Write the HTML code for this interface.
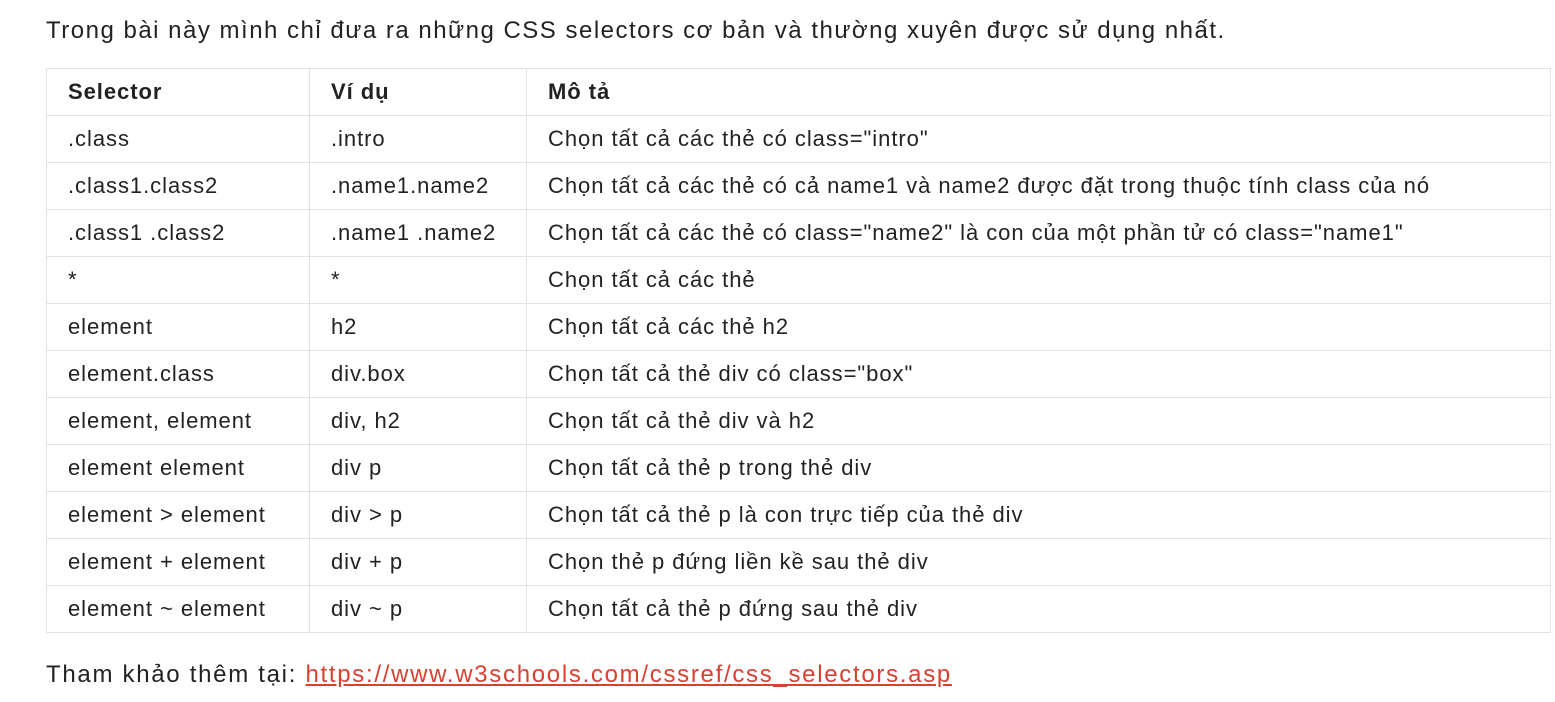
<!DOCTYPE html>
<html><head><meta charset="utf-8"><style>
body{margin:0;width:1555px;height:702px;background:#fff;font-family:"Liberation Sans",sans-serif;color:#222;font-size:22px;overflow:hidden;position:relative}
.p{position:absolute;left:46px;white-space:nowrap}
table{position:absolute;left:46px;top:68px;width:1505px;border-collapse:collapse;letter-spacing:0.95px}
td,th{border:1px solid #e2e2e2;height:46px;padding:0 0 0 21px;text-align:left;white-space:nowrap;vertical-align:middle}
th{font-weight:bold}
a{color:#d9412f;text-decoration:underline}
</style></head><body>
<div class="p" style="top:17px;font-size:24px;letter-spacing:1.5px">Trong bài này mình chỉ đưa ra những CSS selectors cơ bản và thường xuyên được sử dụng nhất.</div>
<table>
<colgroup><col style="width:263px"><col style="width:217px"><col></colgroup>
<tr><th>Selector</th><th>Ví dụ</th><th>Mô tả</th></tr>
<tr><td>.class</td><td>.intro</td><td>Chọn tất cả các thẻ có class="intro"</td></tr>
<tr><td>.class1.class2</td><td>.name1.name2</td><td>Chọn tất cả các thẻ có cả name1 và name2 được đặt trong thuộc tính class của nó</td></tr>
<tr><td>.class1 .class2</td><td>.name1 .name2</td><td>Chọn tất cả các thẻ có class="name2" là con của một phần tử có class="name1"</td></tr>
<tr><td>*</td><td>*</td><td>Chọn tất cả các thẻ</td></tr>
<tr><td>element</td><td>h2</td><td>Chọn tất cả các thẻ h2</td></tr>
<tr><td>element.class</td><td>div.box</td><td>Chọn tất cả thẻ div có class="box"</td></tr>
<tr><td>element, element</td><td>div, h2</td><td>Chọn tất cả thẻ div và h2</td></tr>
<tr><td>element element</td><td>div p</td><td>Chọn tất cả thẻ p trong thẻ div</td></tr>
<tr><td>element &gt; element</td><td>div &gt; p</td><td>Chọn tất cả thẻ p là con trực tiếp của thẻ div</td></tr>
<tr><td>element + element</td><td>div + p</td><td>Chọn thẻ p đứng liền kề sau thẻ div</td></tr>
<tr><td>element ~ element</td><td>div ~ p</td><td>Chọn tất cả thẻ p đứng sau thẻ div</td></tr>
</table>
<div class="p" style="top:661px;font-size:24px;letter-spacing:1.7px">Tham khảo thêm tại: <a>https://www.w3schools.com/cssref/css_selectors.asp</a></div>
</body></html>
